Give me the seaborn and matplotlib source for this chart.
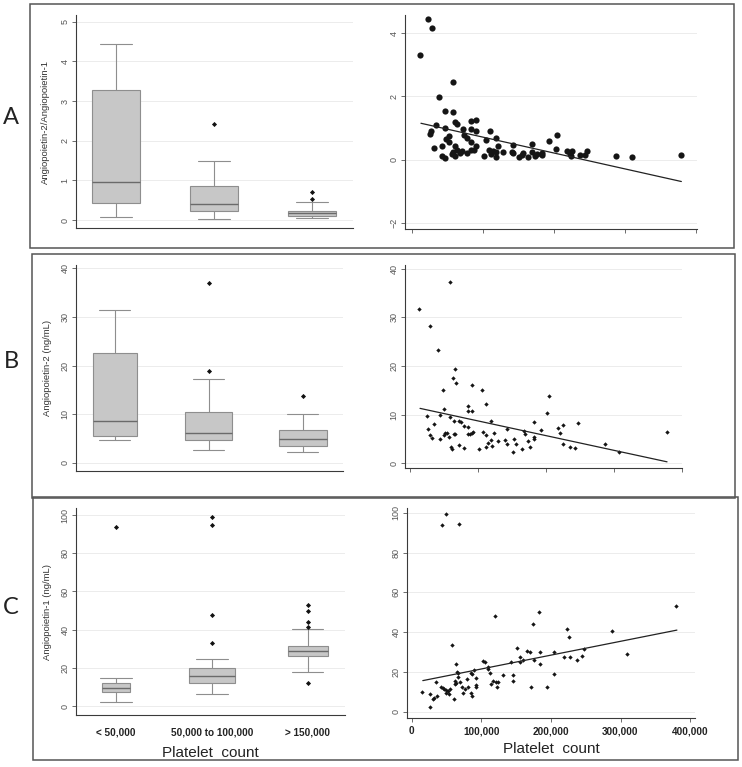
import matplotlib
matplotlib.use("Agg")
import matplotlib.pyplot as plt
from matplotlib.patches import Rectangle
import seaborn as sns

W, H = 742, 767

# categories of the box plots
groups = ["< 50,000", "50,000 to 100,000", "> 150,000"]
scatter_xticks = [0, 100, 200, 300, 400]          # platelet count in thousands
scatter_xlabels = ["0", "100,000", "200,000", "300,000", "400,000"]

# A: Angiopoietin-2 / Angiopoietin-1 ratio
ratio_low = [0.07, 0.02, 0.04]
ratio_q1 = [0.42, 0.24, 0.10]
ratio_med = [0.95, 0.40, 0.17]
ratio_q3 = [3.29, 0.87, 0.24]
ratio_high = [4.45, 1.50, 0.45]
ratio_out = [[], [2.42], [0.54, 0.72]]

ratio_plt = [11.7, 23.5, 28, 25.5, 27, 32, 34, 39, 42, 43, 47, 47, 47, 48, 52, 53, 58, 58,
             56, 58.5, 61, 61.5, 64, 61, 64, 68, 71, 72, 74, 78, 78, 83, 83, 83, 84, 90,
             90.5, 90.5, 88, 101, 105, 110, 109, 111, 114, 118, 118, 119, 122, 129, 141,
             143, 143, 151, 155, 157, 164, 169, 169, 173, 176, 183, 183, 193, 203, 204,
             218, 222, 224, 226, 236, 243, 247, 287, 310, 379]
ratio_val = [3.30, 4.45, 4.17, 0.80, 0.89, 0.36, 1.09, 1.98, 0.44, 0.13, 0.05, 1.54, 0.99,
             0.65, 0.75, 0.57, 2.45, 1.52, 0.18, 0.23, 0.44, 1.19, 1.12, 0.13, 0.30, 0.21,
             0.28, 0.96, 0.79, 0.67, 0.20, 1.23, 0.98, 0.57, 0.31, 0.91, 1.26, 0.42, 0.30,
             0.13, 0.62, 0.91, 0.31, 0.18, 0.28, 0.23, 0.10, 0.70, 0.44, 0.25, 0.23, 0.47,
             0.21, 0.09, 0.16, 0.20, 0.10, 0.49, 0.25, 0.13, 0.18, 0.21, 0.16, 0.58, 0.34,
             0.77, 0.28, 0.18, 0.13, 0.28, 0.15, 0.15, 0.28, 0.12, 0.09, 0.15]
ratio_fit_x = [13, 379]
ratio_fit_y = [1.15, -0.69]

# B: Angiopoietin-2 (ng/mL)
ang2_low = [4.7, 2.65, 2.2]
ang2_q1 = [5.5, 4.7, 3.5]
ang2_med = [8.6, 6.1, 5.0]
ang2_q3 = [22.7, 10.4, 6.7]
ang2_high = [31.5, 17.2, 10.1]
ang2_out = [[], [19.0, 37.1], [13.8]]

ang2_plt = [13.7, 29.4, 25.5, 27, 29.4, 33, 35, 40.7, 44, 44, 49, 49.6, 50, 51, 54, 58, 59,
            59, 60, 62, 63, 64, 64.5, 66, 66, 68, 72.6, 74.6, 72.6, 80, 80, 85, 85, 85, 85,
            88, 91, 91, 91, 92, 102, 105.5, 108, 111, 111, 112, 115, 119, 119, 120, 123,
            130, 140, 142, 143, 151, 153, 156, 165, 168, 169, 173, 176, 183, 183, 183,
            192, 202, 204, 217, 220, 225, 225, 236, 243, 247, 287, 308, 378]
ang2_val = [31.7, 28.3, 9.7, 7.1, 5.8, 5.3, 8.0, 23.3, 9.9, 4.9, 15.1, 11.1, 5.8, 6.2, 6.3,
            5.5, 37.3, 9.5, 3.3, 2.9, 17.6, 8.8, 6.0, 6.0, 19.5, 16.5, 8.6, 8.4, 3.8, 7.7,
            3.2, 11.7, 10.7, 7.5, 6.0, 6.0, 6.2, 16.1, 10.7, 6.4, 2.9, 15.0, 6.4, 12.2, 5.8,
            3.3, 4.1, 4.8, 8.8, 3.6, 6.2, 4.6, 4.8, 7.1, 3.9, 2.3, 4.9, 3.9, 2.9, 6.7, 6.0,
            4.5, 3.4, 8.4, 5.5, 5.1, 6.8, 10.3, 13.9, 7.2, 6.3, 7.8, 4.0, 3.4, 3.2, 8.2,
            4.0, 2.3, 6.4]
ang2_fit_x = [14.7, 378]
ang2_fit_y = [11.3, 0.3]

# C: Angiopoietin-1 (ng/mL)
ang1_low = [1.9, 6.3, 18.0]
ang1_q1 = [7.2, 11.9, 26.2]
ang1_med = [9.4, 15.9, 28.6]
ang1_q3 = [11.9, 19.7, 31.6]
ang1_high = [14.5, 24.8, 40.1]
ang1_out = [[94.0], [32.8, 47.8, 94.6, 98.8], [12.2, 41.5, 43.8, 49.9, 52.7]]

ang1_plt = [15, 26, 27, 30, 32, 34.5, 36, 42, 44, 44.5, 46.5, 49, 50, 50, 52, 54, 55, 58,
            61, 61.8, 62, 63, 64, 65, 66, 67, 68.5, 69, 72, 74, 77, 80, 81, 85, 85, 86, 86,
            90, 92, 92, 93, 102, 106, 109, 110, 112.5, 113.5, 117, 119, 121, 122, 124, 131,
            142, 145, 145, 152, 155, 156, 160, 166, 170, 171, 175, 176, 183, 184, 184, 194,
            204, 205, 219, 223, 226, 227, 237, 244, 248, 288, 310, 380]
ang1_val = [9.9, 2.2, 9.0, 6.2, 7.0, 15.1, 7.9, 12.2, 94.1, 11.9, 11.6, 99.2, 10.9, 9.5,
            10.2, 9.0, 11.2, 33.5, 6.5, 15.6, 13.9, 24.0, 14.6, 20.1, 19.6, 17.6, 94.6, 15.1,
            12.6, 9.5, 11.2, 16.2, 12.2, 19.3, 9.5, 7.9, 18.8, 20.9, 16.8, 12.6, 13.6, 25.5,
            25.1, 22.3, 21.6, 19.6, 13.7, 15.6, 48.1, 15.1, 12.6, 14.7, 18.3, 24.8, 18.4,
            15.6, 31.8, 24.8, 27.3, 25.8, 30.7, 29.8, 12.6, 44.1, 26.0, 49.9, 30.2, 24.0,
            12.2, 30.2, 18.8, 27.5, 41.7, 37.7, 27.6, 26.0, 28.1, 31.3, 40.5, 28.8, 53.1]
ang1_fit_x = [16, 381]
ang1_fit_y = [15.6, 41.0]

sns.set_theme(style="white")
plt.rcParams["font.family"] = ["Liberation Sans", "DejaVu Sans"]

fig = plt.figure(figsize=(W / 100, H / 100), dpi=100)
fig.patch.set_facecolor("white")


def px_axes(left, top, right, bottom):
    return fig.add_axes([left / W, 1 - bottom / H, (right - left) / W, (bottom - top) / H])


def base_style(ax, yticks, ylim):
    sns.despine(ax=ax)
    for s in ["left", "bottom"]:
        ax.spines[s].set_color("#3a3a3a")
        ax.spines[s].set_linewidth(0.8)
    ax.set_ylim(*ylim)
    ax.set_yticks(yticks)
    ax.grid(axis="y", color="#e9e9e9", lw=0.6)
    ax.set_axisbelow(True)
    ax.tick_params(axis="y", left=True, direction="out", length=3, width=0.6, color="#555",
                   labelsize=6.5, labelcolor="#555", pad=1.5)
    for lab in ax.get_yticklabels():
        lab.set_rotation(90)
        lab.set_va("center")
    ax.set_facecolor("white")


def box_panel(ax, low, q1, med, q3, high, out, widths, yticks, ylim, xlim, ylabel, label_x):
    stats = [dict(whislo=low[i], q1=q1[i], med=med[i], q3=q3[i], whishi=high[i], fliers=out[i])
             for i in range(len(groups))]
    ax.bxp(stats, positions=[0, 1, 2], widths=widths, capwidths=[0.33] * 3, patch_artist=True,
           boxprops=dict(facecolor="#c7c7c7", edgecolor="#8e8e8e", lw=0.8),
           medianprops=dict(color="#6a6a6a", lw=1.0),
           whiskerprops=dict(color="#8e8e8e", lw=0.8),
           capprops=dict(color="#8e8e8e", lw=0.8),
           flierprops=dict(marker="D", markersize=2.6, markerfacecolor="#111",
                           markeredgewidth=0))
    ax.set_xlim(*xlim)
    ax.set_xticks([0, 1, 2])
    ax.set_xticklabels([])
    ax.tick_params(axis="x", bottom=False)
    base_style(ax, yticks, ylim)
    ax.set_ylabel(ylabel, fontsize=6.8, color="#333")
    ax.yaxis.set_label_coords(label_x, 0.5)


def scatter_panel(ax, x, y, fit_x, fit_y, yticks, ylim, xlim, big):
    if big:
        sns.scatterplot(x=x, y=y, ax=ax, color="#151515", s=20, linewidth=0, marker="o")
    else:
        sns.scatterplot(x=x, y=y, ax=ax, color="#151515", s=5, linewidth=0, marker="D")
    sns.lineplot(x=fit_x, y=fit_y, ax=ax, color="#222", lw=0.9)
    ax.set_xlim(*xlim)
    ax.set_xticks(scatter_xticks)
    ax.set_xticklabels([])
    ax.tick_params(axis="x", bottom=True, direction="out", length=3, width=0.6, color="#555")
    base_style(ax, yticks, ylim)


# row A
ax = px_axes(76, 15, 353, 228)
box_panel(ax, ratio_low, ratio_q1, ratio_med, ratio_q3, ratio_high, ratio_out,
          [0.49, 0.49, 0.49], [0, 1, 2, 3, 4, 5], (-0.2, 5.17), (-0.41, 2.42),
          "Angiopoietin-2/Angiopoietin-1", -0.094)
ax = px_axes(405, 15, 697, 229)
scatter_panel(ax, ratio_plt, ratio_val, ratio_fit_x, ratio_fit_y, [-2, 0, 2, 4],
              (-2.19, 4.57), (-9.4, 401), True)

# row B
ax = px_axes(76, 265, 343, 471)
box_panel(ax, ang2_low, ang2_q1, ang2_med, ang2_q3, ang2_high, ang2_out,
          [0.47, 0.5, 0.51], [0, 10, 20, 30, 40], (-1.67, 40.7), (-0.415, 2.43),
          "Angiopoietin-2 (ng/mL)", -0.09)
ax = px_axes(405, 265, 682, 468)
scatter_panel(ax, ang2_plt, ang2_val, ang2_fit_x, ang2_fit_y, [0, 10, 20, 30, 40],
              (-0.97, 40.8), (-7.4, 400), False)

# row C
ax = px_axes(76, 508, 345, 715)
box_panel(ax, ang1_low, ang1_q1, ang1_med, ang1_q3, ang1_high, ang1_out,
          [0.29, 0.48, 0.42], [0, 20, 40, 60, 80, 100], (-4.7, 103.7), (-0.42, 2.39),
          "Angiopoietin-1 (ng/mL)", -0.09)
ax.set_xticklabels(groups, fontsize=7.2, fontweight="bold", color="#222")
ax.tick_params(axis="x", pad=3)
ax.set_xlabel("Platelet  count", fontsize=11, color="#222", labelpad=6)

ax = px_axes(407, 508, 695, 718)
scatter_panel(ax, ang1_plt, ang1_val, ang1_fit_x, ang1_fit_y, [0, 20, 40, 60, 80, 100],
              (-3.2, 102.4), (-6.7, 407), False)
ax.set_xticklabels(scatter_xlabels, fontsize=7.2, fontweight="bold", color="#222")
ax.tick_params(axis="x", pad=3)
ax.set_xlabel("Platelet  count", fontsize=11, color="#222", labelpad=4)

# row frames and panel letters
for left, top, right, bottom in [(30, 4, 734, 248), (32, 254, 735, 498), (33, 497, 738, 760)]:
    fig.add_artist(Rectangle((left / W, 1 - bottom / H), (right - left) / W, (bottom - top) / H,
                             transform=fig.transFigure, fill=False, edgecolor="#555", lw=1.1))

for letter, y in [("A", 118), ("B", 362), ("C", 608)]:
    fig.text(11 / W, 1 - y / H, letter, fontsize=17, color="#222", ha="center", va="center",
             family=["Lato", "DejaVu Sans"])

fig.savefig("out.png", dpi=100, facecolor="white")
